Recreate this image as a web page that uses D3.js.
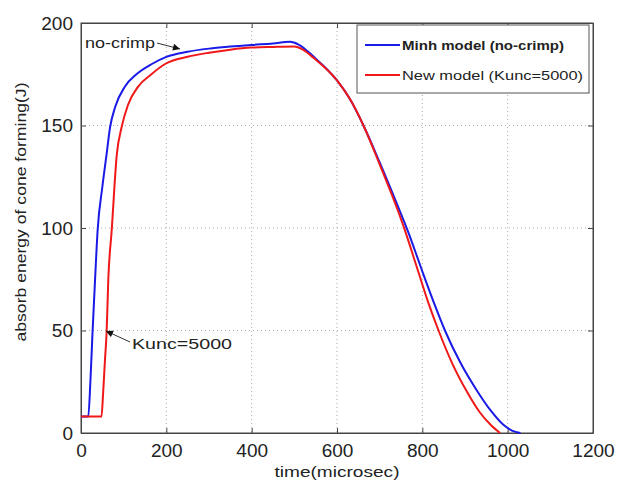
<!DOCTYPE html>
<html>
<head>
<meta charset="utf-8">
<script src="https://cdn.jsdelivr.net/npm/d3@7"></script>
<style>
body { margin: 0; background: #fff; }
svg text { font-family: "Liberation Sans", Arial, sans-serif; fill: #222; }
</style>
</head>
<body>
<svg id="chart" width="620" height="484"></svg>
<script>
// Minh model (no-crimp)
var minhTime   = [0, 17, 22, 27, 33, 39, 50, 60, 68, 80, 103, 130, 166, 200, 250, 300, 350, 400, 450, 490, 510, 545, 600, 630, 662, 700, 740, 767, 798, 830, 853, 890, 927, 960, 990, 1010, 1030]
var minhEnergy = [8, 8, 25, 49, 75, 99, 120, 136, 149, 159, 169, 175, 180, 183.5, 186, 187.5, 188.5, 189.3, 190, 190.8, 189.5, 183.6, 172, 163, 150, 132, 112, 98, 80, 62, 50, 34, 21, 11, 4, 1.2, 0]

// New model (Kunc=5000)
var newTime   = [0, 48, 52, 56, 60, 64, 72, 84, 95, 110, 134, 165, 197, 250, 300, 350, 400, 450, 500, 520, 545, 600, 630, 662, 700, 740, 759, 787, 815, 838, 870, 905, 935, 960, 982]
var newEnergy = [8, 8, 20, 35, 49, 75, 99, 136, 149, 160, 169, 175, 180, 183.5, 185.5, 187, 188, 188.3, 188.5, 187, 183, 172, 163, 150, 131, 110, 99, 81, 63, 50, 34, 20, 10, 4, 0]

var xTicks = [0, 200, 400, 600, 800, 1000, 1200]
var yTicks = [0, 50, 100, 150, 200]

var seriesNames = ["Minh model (no-crimp)", "New model (Kunc=5000)"]
var seriesColors = ["#1a1ae6", "#f01818"]

var svg = d3.select("#chart")
var mLeft = 81, mRight = 593, mTop = 23, mBottom = 433

var x = d3.scaleLinear().domain([0, 1200]).range([mLeft, mRight])
var y = d3.scaleLinear().domain([0, 200]).range([mBottom, mTop])

// grid
svg.append("g").selectAll("line")
	.data(xTicks.slice(1, -1))
	.enter().append("line")
		.attr("x1", function(d){ return x(d) }).attr("x2", function(d){ return x(d) })
		.attr("y1", mTop).attr("y2", mBottom)
		.attr("stroke", "#aaa").attr("stroke-dasharray", "1,3")
svg.append("g").selectAll("line")
	.data(yTicks.slice(1, -1))
	.enter().append("line")
		.attr("y1", function(d){ return y(d) }).attr("y2", function(d){ return y(d) })
		.attr("x1", mLeft).attr("x2", mRight)
		.attr("stroke", "#aaa").attr("stroke-dasharray", "1,3")

// axes (matlab style, ticks inward on all sides)
var fmt = d3.format("d")
svg.append("g").attr("transform", "translate(0," + mBottom + ")")
	.call(d3.axisBottom(x).tickValues(xTicks).tickFormat(fmt).tickSizeInner(-5).tickSizeOuter(0).tickPadding(11))
svg.append("g").attr("transform", "translate(" + mLeft + ",0)")
	.call(d3.axisLeft(y).tickValues(yTicks).tickFormat(fmt).tickSizeInner(-5).tickSizeOuter(0).tickPadding(8))
svg.append("g").attr("transform", "translate(0," + mTop + ")")
	.call(d3.axisTop(x).tickValues(xTicks).tickSizeInner(-5).tickSizeOuter(0).tickFormat(""))
svg.append("g").attr("transform", "translate(" + mRight + ",0)")
	.call(d3.axisRight(y).tickValues(yTicks).tickSizeInner(-5).tickSizeOuter(0).tickFormat(""))
svg.selectAll(".domain, .tick line").attr("stroke", "#444")
svg.selectAll(".tick text").style("font-size", "19px").attr("fill", "#333")
svg.append("rect").attr("x", mLeft).attr("y", mTop).attr("width", mRight - mLeft).attr("height", mBottom - mTop)
	.attr("fill", "none").attr("stroke", "#444")

// lines
var line = d3.line().x(function(d){ return x(d[0]) }).y(function(d){ return y(d[1]) }).curve(d3.curveMonotoneX)
var series = [d3.zip(minhTime, minhEnergy), d3.zip(newTime, newEnergy)]
svg.append("g").selectAll("path")
	.data(series)
	.enter().append("path")
		.attr("d", line)
		.attr("fill", "none")
		.attr("stroke", function(d, i){ return seriesColors[i] })
		.attr("stroke-width", 2)

// axis labels
svg.append("text").attr("x", 337).attr("y", 477).attr("text-anchor", "middle")
	.attr("textLength", 125).attr("lengthAdjust", "spacingAndGlyphs")
	.style("font-size", "15px").text("time(microsec)")
svg.append("text").attr("transform", "translate(26,212) rotate(-90)").attr("text-anchor", "middle")
	.attr("textLength", 259).attr("lengthAdjust", "spacingAndGlyphs")
	.style("font-size", "15px").text("absorb energy of cone forming(J)")

// annotations
svg.append("defs").append("marker")
	.attr("id", "arr").attr("viewBox", "0 0 10 10").attr("refX", 10).attr("refY", 5)
	.attr("markerWidth", 9).attr("markerHeight", 7).attr("orient", "auto")
	.attr("markerUnits", "userSpaceOnUse")
	.append("path").attr("d", "M0,0L10,5L0,10z").attr("fill", "#111")
svg.append("text").attr("x", 85).attr("y", 48)
	.attr("textLength", 70).attr("lengthAdjust", "spacingAndGlyphs")
	.style("font-size", "15px").text("no-crimp")
svg.append("line").attr("x1", 157).attr("y1", 43).attr("x2", 180).attr("y2", 49)
	.attr("stroke", "#333").attr("marker-end", "url(#arr)")
svg.append("text").attr("x", 132).attr("y", 349)
	.attr("textLength", 100).attr("lengthAdjust", "spacingAndGlyphs")
	.style("font-size", "15px").text("Kunc=5000")
svg.append("line").attr("x1", 130).attr("y1", 342).attr("x2", 106).attr("y2", 331)
	.attr("stroke", "#333").attr("marker-end", "url(#arr)")

// legend
var legend = svg.append("g")
legend.append("rect").attr("x", 357).attr("y", 25).attr("width", 232).attr("height", 68)
	.attr("fill", "#fff").attr("stroke", "#555")
var legendWidths = [162, 181]
var item = legend.selectAll(".item")
	.data(seriesNames)
	.enter().append("g")
		.attr("transform", function(d, i){ return "translate(0," + (45 + i * 30) + ")" })
item.append("line").attr("x1", 365).attr("x2", 400)
	.attr("stroke", function(d, i){ return seriesColors[i] }).attr("stroke-width", 2)
item.append("text").attr("x", 402).attr("y", 5)
	.attr("textLength", function(d, i){ return legendWidths[i] }).attr("lengthAdjust", "spacingAndGlyphs")
	.style("font-size", "13px")
	.style("font-weight", function(d, i){ return i == 0 ? "bold" : "normal" })
	.text(function(d){ return d })
</script>
</body>
</html>
